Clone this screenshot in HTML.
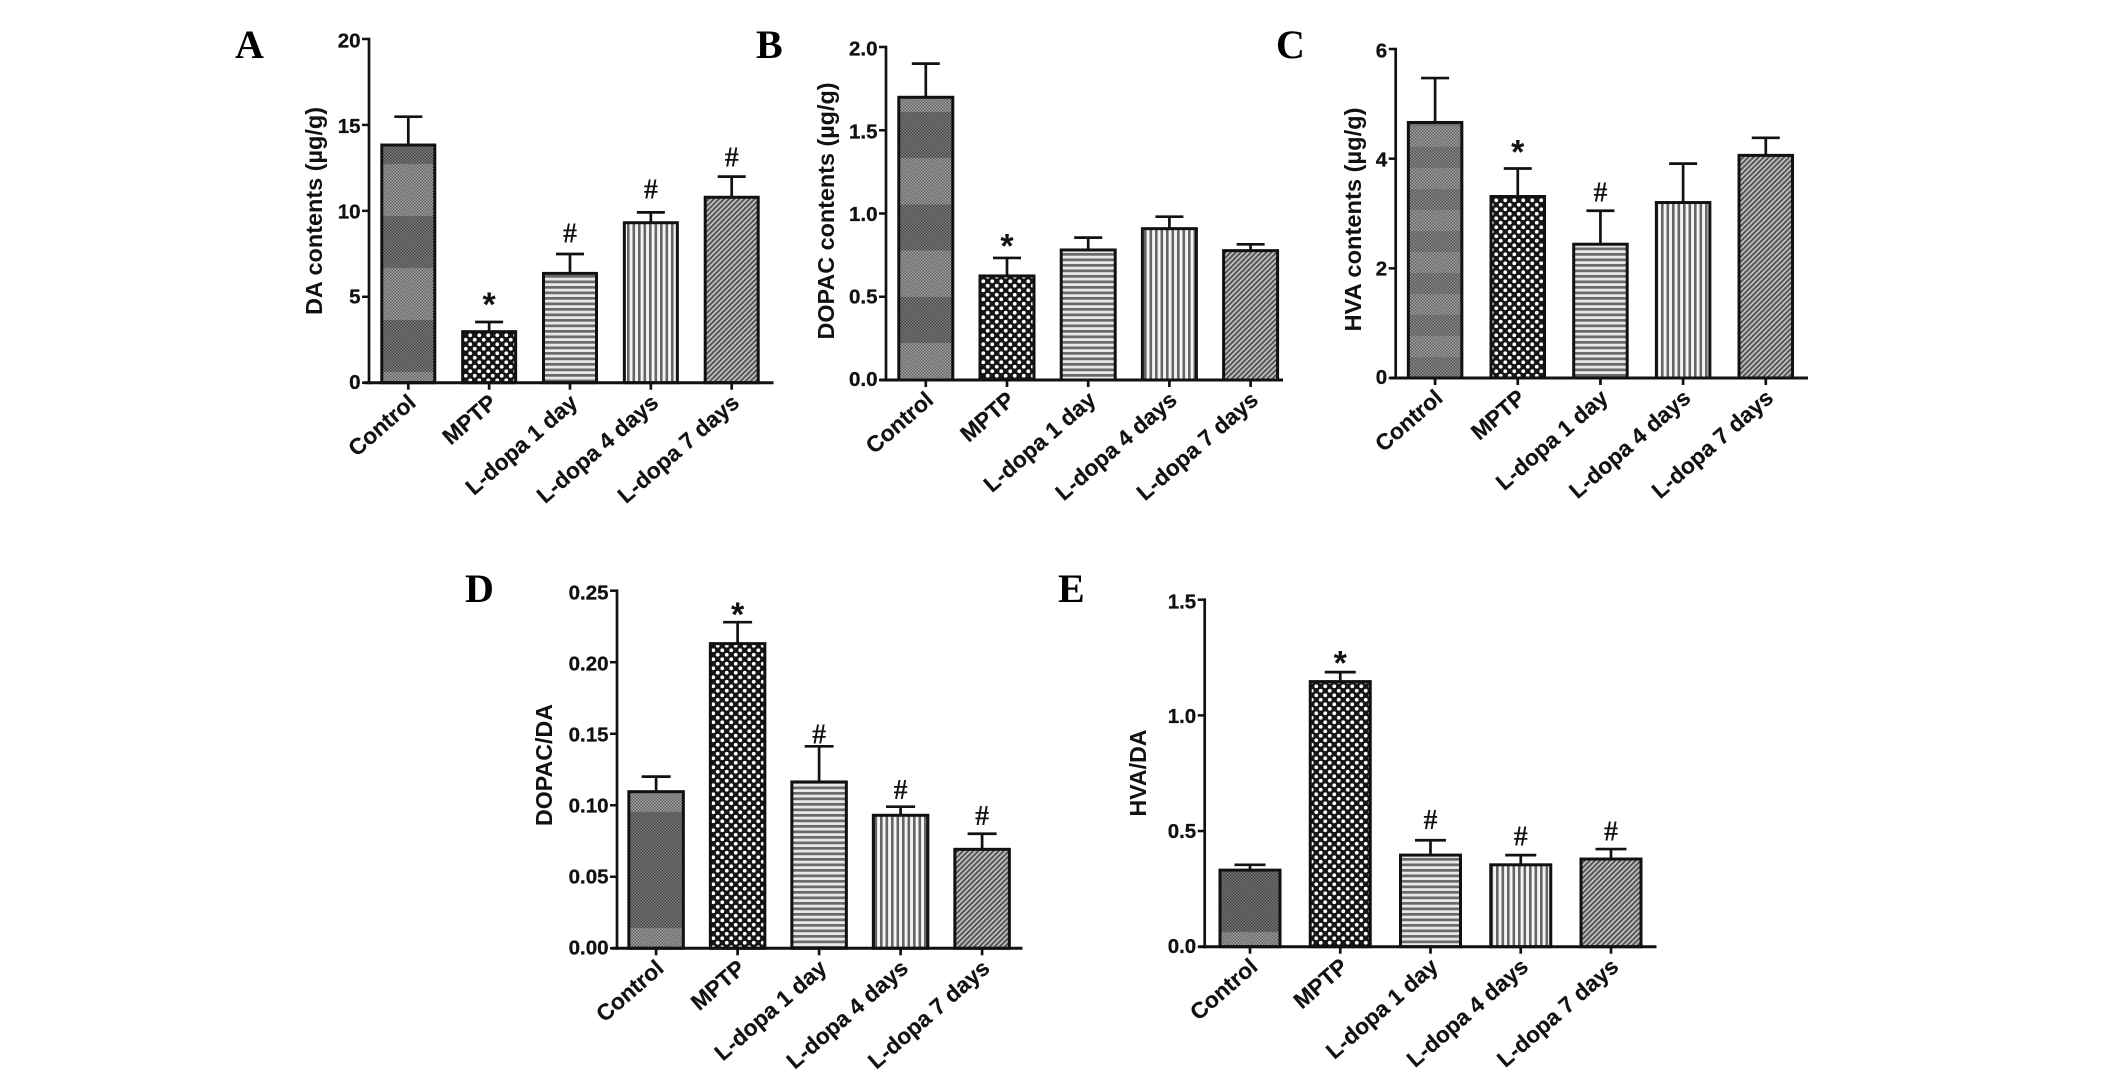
<!DOCTYPE html>
<html>
<head>
<meta charset="utf-8">
<title>Striatal dopamine and metabolite contents</title>
<style>
html,body{margin:0;padding:0;background:#fff;}
svg{display:block;}
.tick{font:bold 20.5px "Liberation Sans",sans-serif;fill:#111;stroke:#111;stroke-width:.3px;}
.cat{font:bold 22.6px "Liberation Sans",sans-serif;fill:#111;stroke:#111;stroke-width:.2px;}
.title{font:bold 23px "Liberation Sans",sans-serif;fill:#111;}
.letter{font:bold 40px "Liberation Serif",serif;fill:#000;}
.star{font:bold 34px "Liberation Sans",sans-serif;fill:#111;}
.hash{font:bold 28px "Liberation Serif",serif;fill:#111;}
</style>
</head>
<body>
<svg id="figure" xmlns="http://www.w3.org/2000/svg" width="2126" height="1075" viewBox="0 0 2126 1075">
  <defs>
    <pattern id="fill-check" width="3" height="3" patternUnits="userSpaceOnUse">
      <rect width="3" height="3" fill="#5f5f5f"/>
      <rect width="1.5" height="1.5" fill="#a5a5a5"/>
      <rect x="1.5" y="1.5" width="1.5" height="1.5" fill="#a5a5a5"/>
    </pattern>
    <pattern id="fill-dots" width="9" height="9" patternUnits="userSpaceOnUse">
      <rect width="9" height="9" fill="#161616"/>
      <circle cx="2.25" cy="2.25" r="1.9" fill="#fff"/>
      <circle cx="6.75" cy="6.75" r="1.9" fill="#fff"/>
    </pattern>
    <pattern id="fill-horizontal" width="5.5" height="5.5" patternUnits="userSpaceOnUse">
      <rect width="5.5" height="5.5" fill="#e8e8e8"/>
      <rect width="5.5" height="2.7" fill="#6a6a6a"/>
    </pattern>
    <pattern id="fill-vertical" width="5.5" height="5.5" patternUnits="userSpaceOnUse">
      <rect width="5.5" height="5.5" fill="#f4f4f4"/>
      <rect width="2.6" height="5.5" fill="#666"/>
    </pattern>
    <pattern id="fill-diagonal" width="3.6" height="3.6" patternUnits="userSpaceOnUse" patternTransform="rotate(-45)">
      <rect width="3.6" height="3.6" fill="#cfcfcf"/>
      <rect width="3.6" height="2.2" fill="#5a5a5a"/>
    </pattern>
  </defs>
  <text class="letter" x="235" y="58">A</text>
  <text class="letter" x="756" y="58">B</text>
  <text class="letter" x="1276" y="58">C</text>
  <text class="letter" x="465" y="602">D</text>
  <text class="letter" x="1058" y="602">E</text>
</svg>
<script>
const categories = ["Control", "MPTP", "L-dopa 1 day", "L-dopa 4 days", "L-dopa 7 days"];

const daMeans = [13.83, 2.97, 6.36, 9.31, 10.79];
const daUpper = [15.48, 3.53, 7.49, 9.91, 11.99];
const daTicks = ["0", "5", "10", "15", "20"];
const daMarks = ["", "*", "#", "#", "#"];
const daMarkLevels = [0, 4.81, 8.69, 11.25, 13.11];

const dopacMeans = [1.698, 0.625, 0.781, 0.909, 0.777];
const dopacUpper = [1.90, 0.733, 0.855, 0.981, 0.815];
const dopacTicks = ["0.0", "0.5", "1.0", "1.5", "2.0"];
const dopacMarks = ["", "*", "", "", ""];
const dopacMarkLevels = [0, 0.833, 0, 0, 0];

const hvaMeans = [4.66, 3.31, 2.44, 3.20, 4.06];
const hvaUpper = [5.47, 3.82, 3.05, 3.91, 4.38];
const hvaTicks = ["0", "2", "4", "6"];
const hvaMarks = ["", "*", "#", "", ""];
const hvaMarkLevels = [0, 4.2, 3.38, 0, 0];

const dopacDaMeans = [0.1095, 0.213, 0.1163, 0.093, 0.0692];
const dopacDaUpper = [0.12, 0.228, 0.1412, 0.099, 0.0801];
const dopacDaTicks = ["0.00", "0.05", "0.10", "0.15", "0.20", "0.25"];
const dopacDaMarks = ["", "*", "#", "#", "#"];
const dopacDaMarkLevels = [0, 0.2365, 0.1496, 0.1107, 0.0925];

const hvaDaMeans = [0.331, 1.146, 0.396, 0.354, 0.379];
const hvaDaUpper = [0.354, 1.187, 0.46, 0.396, 0.422];
const hvaDaTicks = ["0.0", "0.5", "1.0", "1.5"];
const hvaDaMarks = ["", "*", "#", "#", "#"];
const hvaDaMarkLevels = [0, 1.246, 0.548, 0.476, 0.497];

const barFills = ["fill-check", "fill-dots", "fill-horizontal", "fill-vertical", "fill-diagonal"];

const panels = [
  {id:"a", title:"DA contents (µg/g)", means:daMeans, upper:daUpper, ticks:daTicks, marks:daMarks, levels:daMarkLevels,
   axisX:369, top:39, base:382.7, first:408.3, step:80.85, barW:53, capW:28, start:364, end:773.5,
   titleX:322, titleY:211, titleLen:208, band:{start:320, h:52, period:104, op:.24}},
  {id:"b", title:"DOPAC contents (µg/g)", means:dopacMeans, upper:dopacUpper, ticks:dopacTicks, marks:dopacMarks, levels:dopacMarkLevels,
   axisX:886, top:47, base:380, first:925.8, step:81.2, barW:54, capW:28, start:880, end:1283,
   titleX:834, titleY:211, titleLen:257, band:{start:297, h:46, period:92.5, op:.24}},
  {id:"c", title:"HVA contents (µg/g)", means:hvaMeans, upper:hvaUpper, ticks:hvaTicks, marks:hvaMarks, levels:hvaMarkLevels,
   axisX:1395.7, top:49, base:378, first:1435.1, step:82.67, barW:53.5, capW:28, start:1390, end:1808,
   titleX:1361, titleY:219.5, titleLen:224, band:{start:147, h:21, period:42, op:.14}},
  {id:"d", title:"DOPAC/DA", means:dopacDaMeans, upper:dopacDaUpper, ticks:dopacDaTicks, marks:dopacDaMarks, levels:dopacDaMarkLevels,
   axisX:617, top:590.7, base:948.3, first:656.1, step:81.5, barW:54.5, capW:29, start:611.5, end:1022.5,
   titleX:552, titleY:765, titleLen:122, band:{start:812, h:116, period:400, op:.25}},
  {id:"e", title:"HVA/DA", means:hvaDaMeans, upper:hvaDaUpper, ticks:hvaDaTicks, marks:hvaDaMarks, levels:hvaDaMarkLevels,
   axisX:1204.7, top:599.7, base:946.7, first:1250, step:90.25, barW:60, capW:31, start:1198.5, end:1656.5,
   titleX:1146, titleY:773, titleLen:87, band:{start:860, h:72, period:400, op:.28}}
];

const SVGNS = "http://www.w3.org/2000/svg";
const figure = document.getElementById("figure");
const INK = "#111";

function make(tag, attrs, parent) {
  const el = document.createElementNS(SVGNS, tag);
  for (const k in attrs) el.setAttribute(k, attrs[k]);
  parent.appendChild(el);
  return el;
}

function drawPanel(p) {
  const group = make("g", {}, figure);
  
  

  const maxValue = parseFloat(p.ticks[p.ticks.length - 1]);
  const yScale = v => p.base - (v / maxValue) * (p.base - p.top);
  const xScale = i => p.first + i * p.step;

  const defs = make("defs", {}, group);
  const bandPat = make("pattern", {
    id: "band-" + p.id, width: 4000, height: p.band.period, patternUnits: "userSpaceOnUse", y: p.band.start
  }, defs);
  make("rect", {x: 0, y: 0, width: 4000, height: p.band.h, fill: "#000", "fill-opacity": p.band.op}, bandPat);

  categories.forEach((name, i) => {
    const cx = xScale(i);
    const yTop = yScale(p.means[i]);
    const yErr = yScale(p.upper[i]);

    const stem = make("line", {x1: cx, x2: cx, y1: yTop, y2: yErr, stroke: INK, "stroke-width": 2.7}, group);
    
    

    const cap = make("line", {x1: cx - p.capW / 2, x2: cx + p.capW / 2, y1: yErr, y2: yErr, stroke: INK, "stroke-width": 2.7}, group);
    
    

    const bar = make("rect", {
      x: cx - p.barW / 2, y: yTop, width: p.barW, height: p.base - yTop,
      fill: "url(#" + barFills[i] + ")", stroke: INK, "stroke-width": 3
    }, group);
    
    

    if (i === 0) {
      const bandRect = make("rect", {
        x: cx - p.barW / 2 + 1.5, y: yTop + 1.5, width: p.barW - 3, height: p.base - yTop - 3,
        fill: "url(#band-" + p.id + ")"
      }, group);
      
      
    }

    if (p.marks[i]) {
      const isStar = p.marks[i] === "*";
      const my = yScale(p.levels[i]) + (isStar ? 16 : 9);
      const mark = make("text", {x: cx, y: my, "text-anchor": "middle", class: isStar ? "star" : "hash"}, group);
      mark.textContent = p.marks[i];
      
      
    }

    const tick = make("line", {x1: cx, x2: cx, y1: p.base, y2: p.base + 7, stroke: INK, "stroke-width": 2.7}, group);
    
    

    const ax = cx + 9, ay = p.base + 22;
    const label = make("text", {x: ax, y: ay, "text-anchor": "end", class: "cat", transform: "rotate(-41 " + ax + " " + ay + ")"}, group);
    label.textContent = name;
    
    
  });

  const xAxis = make("line", {x1: p.start, x2: p.end, y1: p.base, y2: p.base, stroke: INK, "stroke-width": 3}, group);
  
  

  const yAxis = make("line", {x1: p.axisX, x2: p.axisX, y1: p.top - 1.3, y2: p.base + 1.5, stroke: INK, "stroke-width": 2.7}, group);
  
  

  p.ticks.forEach((t, i) => {
    const y = yScale(parseFloat(t));
    const tick = make("line", {x1: p.axisX - 7, x2: p.axisX, y1: y, y2: y, stroke: INK, "stroke-width": 2.5}, group);
    
    

    const labelDrop = 6.2 + 2.5 * i / (p.ticks.length - 1);
    const label = make("text", {x: p.axisX - 8.5, y: y + labelDrop, "text-anchor": "end", class: "tick"}, group);
    label.textContent = t;
    
    
  });

  const title = make("text", {
    x: p.titleX, y: p.titleY, "text-anchor": "middle", class: "title",
    textLength: p.titleLen, lengthAdjust: "spacingAndGlyphs",
    transform: "rotate(-90 " + p.titleX + " " + p.titleY + ")"
  }, group);
  title.textContent = p.title;
  
  
}

panels.forEach(drawPanel);
</script>
</body>
</html>
